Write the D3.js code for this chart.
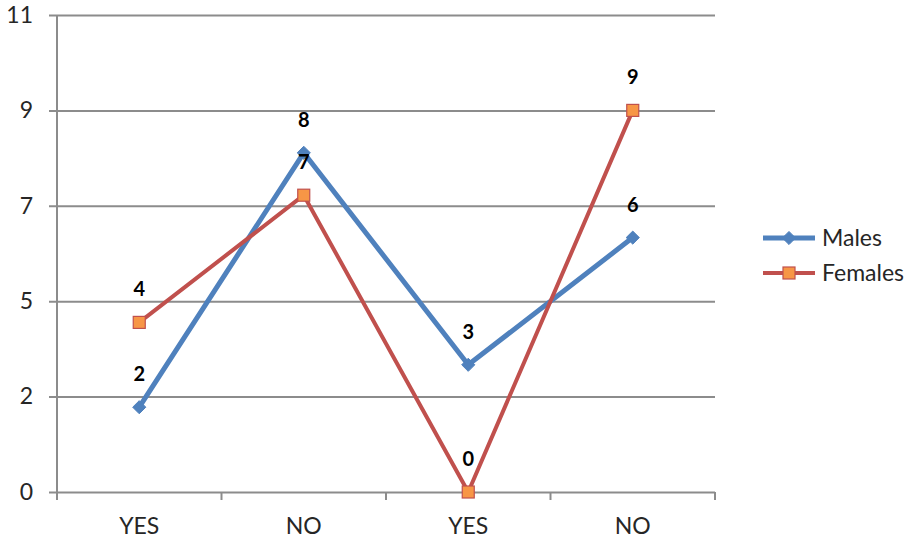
<!DOCTYPE html>
<html>
<head>
<meta charset="utf-8">
<script src="https://cdn.jsdelivr.net/npm/d3@7/dist/d3.min.js"></script>
<style>
  html, body { margin: 0; padding: 0; background: #fff; }
  svg { display: block; font-family: Lato, "Open Sans", sans-serif; }
</style>
</head>
<body>
<svg id="chart" width="916" height="538"></svg>
<script>
// Survey answers per group
const categories = ["YES", "NO", "YES ", "NO "];
const categoryLabels = ["YES", "NO", "YES", "NO"];
const males = [2, 8, 3, 6];
const females = [4, 7, 0, 9];
const seriesNames = ["Males", "Females"];

// Value axis: gridlines every 2.25, labels shown rounded
const yTicks = [0, 2.25, 4.5, 6.75, 9, 11.25];
const yTickLabels = ["0", "2", "5", "7", "9", "11"];

const svg = d3.select("#chart");
const margin = { left: 57, right: 201, top: 15, bottom: 46 };
const W = 916, H = 538;

const x = d3.scaleBand()
  .domain(categories)
  .range([margin.left, W - margin.right])
  .paddingInner(0).paddingOuter(0);

const y = d3.scaleLinear()
  .domain([0, 11.25])
  .range([H - margin.bottom, margin.top]);

const gridColor = "#8c8c8c";
const textColor = "#262626";

// Horizontal gridlines with left tick stubs
const yAxis = d3.axisLeft(y)
  .tickValues(yTicks)
  .tickFormat((d, i) => yTickLabels[i])
  .tickSize(-(W - margin.right - margin.left) - 8)
  .tickPadding(16);

const gy = svg.append("g")
  .attr("transform", `translate(${margin.left - 8},0)`)
  .call(yAxis);
gy.select(".domain").remove();
gy.selectAll(".tick line")
  .attr("x1", 0)
  .attr("x2", W - margin.right - margin.left + 8)
  .attr("stroke", gridColor)
  .attr("stroke-width", 2);
gy.selectAll(".tick text")
  .attr("x", -16)
  .attr("fill", textColor)
  .style("font-size", "23px")
  .style("font-family", "Lato, 'Open Sans', sans-serif");

// Vertical value axis line
svg.append("line")
  .attr("x1", margin.left).attr("x2", margin.left)
  .attr("y1", y(11.25)).attr("y2", y(0) + 8)
  .attr("stroke", gridColor).attr("stroke-width", 2);

// Category axis: tick marks at band boundaries
const boundaries = categories.map(c => x(c)).concat([x(categories[categories.length - 1]) + x.bandwidth()]);
svg.append("g").selectAll("line")
  .data(boundaries.slice(1))
  .join("line")
  .attr("x1", d => d).attr("x2", d => d)
  .attr("y1", y(0)).attr("y2", y(0) + 8)
  .attr("stroke", gridColor).attr("stroke-width", 2);

svg.append("g").selectAll("text")
  .data(categories)
  .join("text")
  .attr("x", d => x(d) + x.bandwidth() / 2)
  .attr("y", y(0) + 42)
  .attr("text-anchor", "middle")
  .attr("fill", textColor)
  .style("font-size", "23px")
  .text((d, i) => categoryLabels[i]);

const cx = c => x(c) + x.bandwidth() / 2;

const series = [
  { name: seriesNames[0], values: males, line: "#4f81bd", lw: 5, marker: "diamond", fill: "#4f81bd", stroke: "#4f81bd" },
  { name: seriesNames[1], values: females, line: "#c0504d", lw: 4, marker: "square", fill: "#f79646", stroke: "#c0504d" }
];

const line = d3.line()
  .x((d, i) => cx(categories[i]))
  .y(d => y(d));

function drawMarker(g, type, fill, stroke) {
  if (type === "diamond") {
    g.append("path")
      .attr("d", d3.symbol(d3.symbolDiamond2, 110)())
      .attr("fill", fill).attr("stroke", stroke).attr("stroke-width", 1);
  } else {
    g.append("rect")
      .attr("x", -6).attr("y", -6).attr("width", 12).attr("height", 12)
      .attr("fill", fill).attr("stroke", stroke).attr("stroke-width", 1.2);
  }
}

series.forEach(s => {
  svg.append("path")
    .datum(s.values)
    .attr("d", line)
    .attr("fill", "none")
    .attr("stroke", s.line)
    .attr("stroke-width", s.lw)
    .attr("stroke-linejoin", "round");
});

series.forEach(s => {
  s.values.forEach((v, i) => {
    const g = svg.append("g").attr("transform", `translate(${cx(categories[i])},${y(v)})`);
    drawMarker(g, s.marker, s.fill, s.stroke);
  });
});

// Data labels
series.forEach(s => {
  svg.append("g").selectAll("text")
    .data(s.values)
    .join("text")
    .attr("x", (d, i) => cx(categories[i]))
    .attr("y", d => y(d) - 26)
    .attr("text-anchor", "middle")
    .attr("fill", "#000")
    .style("font-size", "20px")
    .style("font-weight", "bold")
    .text(d => d);
});

// Legend
const legend = svg.append("g");
series.forEach((s, i) => {
  const ly = 238 + i * 35;
  const g = legend.append("g").attr("transform", `translate(0,${ly})`);
  g.append("line")
    .attr("x1", 763).attr("x2", 815).attr("y1", 0).attr("y2", 0)
    .attr("stroke", s.line).attr("stroke-width", s.lw);
  const m = g.append("g").attr("transform", "translate(789,0)");
  drawMarker(m, s.marker, s.fill, s.stroke);
  g.append("text")
    .attr("x", 822).attr("y", 0).attr("dy", "0.35em")
    .attr("fill", textColor)
    .style("font-size", "23px")
    .text(s.name);
});
</script>
</body>
</html>
